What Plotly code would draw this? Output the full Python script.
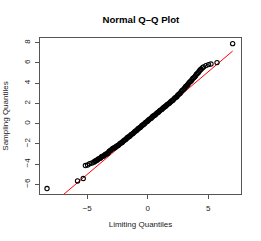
import plotly.graph_objects as go

# Theoretical ("limiting") quantiles and sample quantiles
theo_q = [-8.32, -5.80, -5.33, -5.15, -4.97, -4.80, -4.60, -4.45, -4.30, -4.15,
          -4.00, -3.85, -3.70, -3.55, -3.40, -3.25, -3.10, -2.95, -2.80, -2.65,
          -2.50, -2.35, -2.20, -2.05, -1.90, -1.75, -1.60, -1.45, -1.30, -1.15,
          -1.00, -0.85, -0.70, -0.55, -0.40, -0.25, -0.10, 0.05, 0.20, 0.35,
          0.50, 0.65, 0.80, 0.95, 1.10, 1.25, 1.40, 1.55, 1.70, 1.85,
          2.00, 2.15, 2.30, 2.45, 2.60, 2.75, 2.90, 3.05, 3.20, 3.35,
          3.50, 3.65, 3.80, 3.95, 4.10, 4.25, 4.40, 4.50, 4.60, 4.80,
          5.02, 5.22, 5.72, 7.01,
          -4.38, -4.22, -4.08, -3.92, -3.78, -3.62, -3.48, -3.32, -3.18, -3.02,
          -2.88, -2.72, -2.58, -2.42, -2.28, -2.12, -1.98, -1.82, -1.68, -1.52,
          -1.38, -1.22, -1.08, -0.92, -0.78, -0.62, -0.48, -0.32, -0.18, -0.02,
          0.12, 0.28, 0.42, 0.58, 0.72, 0.88, 1.02, 1.18, 1.32, 1.48,
          1.62, 1.78, 1.92, 2.08, 2.22, 2.38, 2.52, 2.68, 2.82, 2.98,
          3.12, 3.28, 3.42, 3.58, 3.72, 3.88, 4.02, 4.18, 4.32]
samp_q = [-6.42, -5.67, -5.43, -4.15, -4.10, -3.97, -3.90, -3.81, -3.69, -3.58,
          -3.46, -3.33, -3.22, -3.11, -3.00, -2.85, -2.67, -2.52, -2.41, -2.31,
          -2.18, -2.05, -1.91, -1.77, -1.62, -1.48, -1.33, -1.19, -1.04, -0.89,
          -0.74, -0.59, -0.44, -0.28, -0.13, 0.02, 0.17, 0.33, 0.47, 0.62,
          0.77, 0.91, 1.07, 1.22, 1.36, 1.51, 1.66, 1.81, 1.95, 2.10,
          2.25, 2.42, 2.58, 2.75, 2.93, 3.13, 3.33, 3.53, 3.73, 3.93,
          4.14, 4.34, 4.54, 4.74, 4.96, 5.17, 5.37, 5.50, 5.60, 5.73,
          5.83, 5.89, 6.03, 7.90,
          -3.72, -3.65, -3.50, -3.42, -3.25, -3.19, -3.03, -2.95, -2.74, -2.61,
          -2.45, -2.38, -2.23, -2.13, -1.96, -1.86, -1.68, -1.57, -1.38, -1.28,
          -1.09, -0.98, -0.79, -0.68, -0.49, -0.38, -0.18, -0.07, 0.12, 0.23,
          0.42, 0.53, 0.72, 0.82, 1.01, 1.13, 1.31, 1.42, 1.60, 1.71,
          1.90, 2.01, 2.19, 2.31, 2.52, 2.64, 2.86, 3.01, 3.25, 3.41,
          3.65, 3.81, 4.05, 4.22, 4.46, 4.62, 4.87, 5.05, 5.29]

# Reference line (qqline), drawn across the range of the theoretical quantiles
line_intercept = 0.054
line_slope = 1.015
line_x = [min(theo_q), max(theo_q)]
line_y = [line_intercept + line_slope * v for v in line_x]

x_ticks = [-5, 0, 5]
y_ticks = [-6, -4, -2, 0, 2, 4, 6, 8]

title_text = "Normal Q\u2013Q Plot"
x_title = "Limiting Quantiles"
y_title = "Sampling Quantiles"

font_family = "Liberation Sans, Arial, Helvetica, sans-serif"
text_color = "#222"

fig = go.Figure()
fig.add_trace(go.Scatter(
    x=line_x, y=line_y, mode="lines",
    line=dict(color="#ff0000", width=1), hoverinfo="skip", showlegend=False))
fig.add_trace(go.Scatter(
    x=theo_q, y=samp_q, mode="markers",
    marker=dict(symbol="circle-open", size=4.3, color="black",
                line=dict(color="black", width=1.1)),
    showlegend=False))

fig.update_layout(
    width=261, height=241,
    margin=dict(l=40, r=20, t=38, b=47, autoexpand=False),
    paper_bgcolor="white", plot_bgcolor="white",
    font=dict(family=font_family, size=8, color=text_color),
    title=dict(text="<b>" + title_text + "</b>", x=0.54, xanchor="center",
               y=0.92, yanchor="middle", font=dict(size=9.6, color="#000")),
    showlegend=False,
)
fig.update_xaxes(
    range=[-8.9, 7.7], tickvals=x_ticks, ticktext=["\u22125", "0", "5"],
    showgrid=False, zeroline=False,
    showline=True, mirror=True, linecolor="#555", linewidth=1,
    ticks="outside", ticklen=4, tickcolor="#555", tickwidth=1,
    ticklabelstandoff=2, tickfont=dict(size=8, color=text_color),
    title=dict(text=x_title, standoff=9, font=dict(size=8, color=text_color)),
)
fig.update_yaxes(
    range=[-6.96, 8.46], tickvals=y_ticks,
    ticktext=["\u22126", "\u22124", "\u22122", "0", "2", "4", "6", "8"],
    tickangle=-90,
    showgrid=False, zeroline=False,
    showline=True, mirror=True, linecolor="#555", linewidth=1,
    ticks="outside", ticklen=4, tickcolor="#555", tickwidth=1,
    ticklabelstandoff=2, tickfont=dict(size=8, color=text_color),
    title=dict(text=y_title, standoff=12, font=dict(size=8, color=text_color)),
)

fig.write_html("out.html", config={"displayModeBar": False},
               post_script="document.body.style.margin='0';")
